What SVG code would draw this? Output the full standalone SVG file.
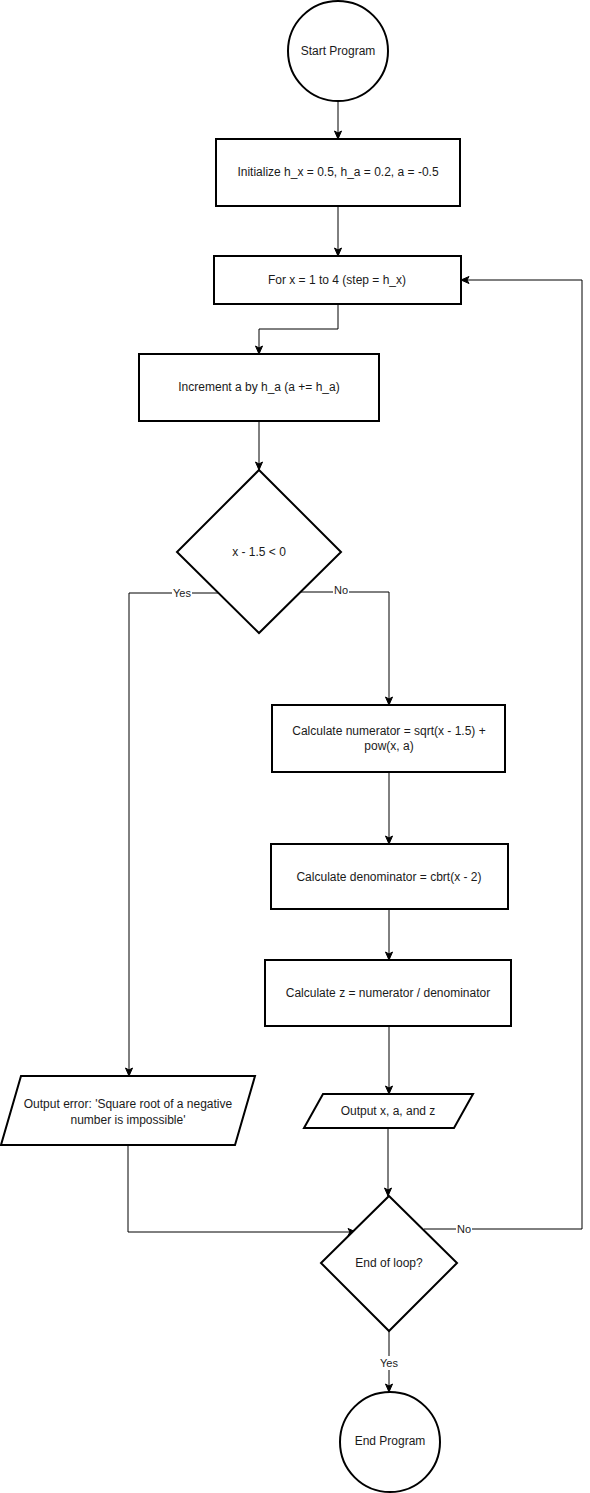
<svg xmlns="http://www.w3.org/2000/svg" width="590" height="1493" viewBox="0 0 590 1493">
<style>
.shape{fill:#ffffff;stroke:#000000;stroke-width:2}
.edge{fill:none;stroke:#000000;stroke-width:1}
text{font-family:"Liberation Sans",Arial,sans-serif;font-size:12px;fill:#1a1a1a;text-anchor:middle;dominant-baseline:central}
.lbl{font-size:11px}
.lblbg{fill:#ffffff;stroke:none}
</style>
<defs>
<marker id="arr" markerUnits="userSpaceOnUse" markerWidth="10" markerHeight="10" viewBox="0 0 10 10" refX="9" refY="5" orient="auto">
<path d="M1,1.5 L9,5 L1,8.5 L3,5 Z" fill="#000000" stroke="#000000" stroke-width="1"/>
</marker>
</defs>
<rect width="590" height="1493" fill="#ffffff"/>
<g id="connectors">
<path class="edge" d="M338,101 V139" marker-end="url(#arr)"/>
<path class="edge" d="M338,207 V256" marker-end="url(#arr)"/>
<path class="edge" d="M338,305 V329 H259 V354" marker-end="url(#arr)"/>
<path class="edge" d="M259,422 V470" marker-end="url(#arr)"/>
<path class="edge" d="M218,593 H129 V1076" marker-end="url(#arr)"/>
<rect class="lblbg" x="172" y="586" width="20" height="13"/>
<text class="lbl" x="182" y="593">Yes</text>
<path class="edge" d="M300,592 H389 V705" marker-end="url(#arr)"/>
<rect class="lblbg" x="333" y="583" width="16" height="13"/>
<text class="lbl" x="341" y="590">No</text>
<path class="edge" d="M389,773 V844" marker-end="url(#arr)"/>
<path class="edge" d="M389,910 V960" marker-end="url(#arr)"/>
<path class="edge" d="M389,1027 V1094" marker-end="url(#arr)"/>
<path class="edge" d="M388,1129 V1196" marker-end="url(#arr)"/>
<path class="edge" d="M128,1146 V1232 H356" marker-end="url(#arr)"/>
<path class="edge" d="M424,1229 H582 V280 H461" marker-end="url(#arr)"/>
<rect class="lblbg" x="456" y="1222" width="16" height="13"/>
<text class="lbl" x="464" y="1229">No</text>
<path class="edge" d="M389,1331 V1392" marker-end="url(#arr)"/>
<rect class="lblbg" x="379" y="1356" width="20" height="14"/>
<text class="lbl" x="389" y="1363">Yes</text>
</g>
<g id="start">
<circle class="shape" cx="338" cy="51" r="50"/>
<text x="338" y="51">Start Program</text>
</g>
<g id="init">
<rect class="shape" x="216" y="139" width="244" height="67"/>
<text x="338" y="172">Initialize h_x = 0.5, h_a = 0.2, a = -0.5</text>
</g>
<g id="forloop">
<rect class="shape" x="214" y="256" width="247" height="48"/>
<text x="337" y="280">For x = 1 to 4 (step = h_x)</text>
</g>
<g id="increment">
<rect class="shape" x="139" y="354" width="240" height="67"/>
<text x="259" y="387">Increment a by h_a (a += h_a)</text>
</g>
<g id="cond">
<polygon class="shape" points="259,470 341,552 259,633 177,552"/>
<text x="259" y="552">x - 1.5 &lt; 0</text>
</g>
<g id="numerator">
<rect class="shape" x="272" y="705" width="233" height="67"/>
<text x="389" y="731">Calculate numerator = sqrt(x - 1.5) +</text>
<text x="389" y="746">pow(x, a)</text>
</g>
<g id="denominator">
<rect class="shape" x="271" y="844" width="237" height="65"/>
<text x="389" y="877">Calculate denominator = cbrt(x - 2)</text>
</g>
<g id="calcz">
<rect class="shape" x="265" y="960" width="246" height="66"/>
<text x="388" y="993">Calculate z = numerator / denominator</text>
</g>
<g id="error">
<polygon class="shape" points="21,1076 255,1076 235,1145 1,1145"/>
<text x="128" y="1104">Output error: 'Square root of a negative</text>
<text x="128" y="1120">number is impossible'</text>
</g>
<g id="output">
<polygon class="shape" points="323,1094 473,1094 454,1128 304,1128"/>
<text x="388" y="1111">Output x, a, and z</text>
</g>
<g id="endloop">
<polygon class="shape" points="389,1196 457,1263 389,1331 321,1263"/>
<text x="389" y="1263">End of loop?</text>
</g>
<g id="end">
<circle class="shape" cx="390" cy="1442" r="50"/>
<text x="390" y="1441">End Program</text>
</g>
</svg>
